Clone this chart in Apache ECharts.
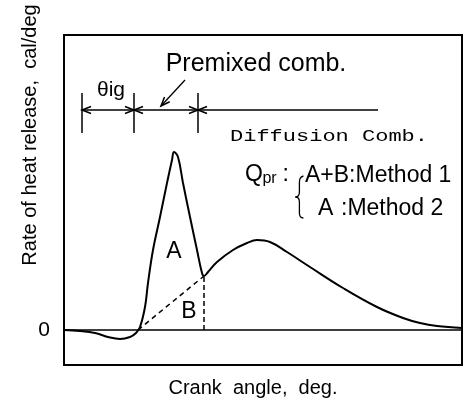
<!DOCTYPE html>
<html>
<head>
<meta charset="utf-8">
<script src="https://cdn.jsdelivr.net/npm/echarts@6/dist/echarts.min.js"></script>
<style>
html, body { margin: 0; padding: 0; background: #fff; }
#chart { width: 464px; height: 405px; }
</style>
</head>
<body>
<div id="chart"></div>
<script>
// heat release curve (arbitrary units)
const crankAngle = [0, 4, 7.75, 11, 14, 16.5, 18, 19, 20.25, 21, 22.25, 24, 25.75, 27, 27.5, 28.5, 29.75, 31.5, 33.25, 34.5, 35, 36, 38.25, 42.25, 45.75, 48.25, 51.5, 55.75, 61.5, 69.75, 78.25, 84.75, 89, 93.25, 99.5];
const heatRelease = [0, -0.2, -0.6, -1.4, -1.8, -1.4, -0.6, 0.6, 4.6, 9.4, 16, 22.6, 29.4, 34, 35.6, 34.6, 29.4, 22.6, 16, 11.4, 10.8, 11.6, 13.6, 16, 17.4, 18, 17.6, 15.6, 12.6, 8.4, 4.6, 2.4, 1.4, 0.8, 0.4];

// split between A (premixed) and B
const splitAngle = [18.5, 35];
const splitRate = [0, 10.8];

// dimension marks: start, ignition, end of premixed, end of line
const phaseMarks = [4.5, 17.5, 33.5];
const phaseLineEnd = 78.5;
const yTicks = [0];

const FONT = '"Liberation Sans", Arial, sans-serif';
const chart = echarts.init(document.getElementById('chart'));

chart.setOption({
	animation: false,
	grid: { left: 64, right: 2, top: 35, bottom: 40, show: true, borderColor: '#000', borderWidth: 2 },
	xAxis: {
		type: 'value', min: 0, max: 99.5,
		axisLine: { onZero: true, lineStyle: { color: '#000', width: 1.5 } },
		axisTick: { show: false }, axisLabel: { show: false }, splitLine: { show: false }
	},
	yAxis: {
		type: 'value', min: -7, max: 59,
		axisLine: { show: false }, axisTick: { show: false }, splitLine: { show: false },
		axisLabel: { customValues: yTicks, fontSize: 21, color: '#000', margin: 14, fontFamily: FONT }
	},
	series: [
		{
			type: 'line', symbol: 'none', smooth: 0.4,
			data: crankAngle.map((x, i) => [x, heatRelease[i]]),
			lineStyle: { color: '#000', width: 2 }
		},
		{
			type: 'line', symbol: 'none',
			data: splitAngle.map((x, i) => [x, splitRate[i]]),
			lineStyle: { color: '#000', width: 1.5, type: [5, 4] }
		},
		{
			type: 'line', symbol: 'none',
			data: [[splitAngle[1], 0], [splitAngle[1], splitRate[1]]],
			lineStyle: { color: '#000', width: 1.5, type: [5, 3] }
		}
	]
});

// annotations, placed through the grid's own scales
const px = (x, y) => chart.convertToPixel({ gridIndex: 0 }, [x, y]);
const g = [];
function seg(a, b, w) {
	const p = px(a[0], a[1]), q = px(b[0], b[1]);
	g.push({ type: 'line', shape: { x1: p[0], y1: p[1], x2: q[0], y2: q[1] }, style: { stroke: '#000', lineWidth: w || 1.5 } });
}
function head(tip, from) {
	const p = px(tip[0], tip[1]), q = px(from[0], from[1]);
	const dx = p[0] - q[0], dy = p[1] - q[1], L = Math.hypot(dx, dy);
	const ux = dx / L, uy = dy / L, len = 9, hw = 3.5;
	const bx = p[0] - ux * len, by = p[1] - uy * len;
	g.push({ type: 'polyline', shape: { points: [[bx - uy * hw, by + ux * hw], p, [bx + uy * hw, by - ux * hw]] }, style: { stroke: '#000', lineWidth: 1.5, fill: null } });
}
function label(text, x, y, style, extra) {
	const p = px(x, y);
	g.push(Object.assign({
		type: 'text', x: p[0], y: p[1],
		style: Object.assign({ text: text, fill: '#000', fontSize: 23, fontFamily: FONT, align: 'center', verticalAlign: 'middle' }, style)
	}, extra));
}

const lineY = 44;
seg([phaseMarks[0], lineY], [phaseLineEnd, lineY]);
phaseMarks.forEach(m => seg([m, 47.4], [m, 39.4]));
head([phaseMarks[0], lineY], [phaseMarks[1], lineY]);
head([phaseMarks[1], lineY], [phaseMarks[0], lineY]);
head([phaseMarks[1], lineY], [phaseMarks[2], lineY]);
head([phaseMarks[2], lineY], [phaseMarks[1], lineY]);
head([phaseMarks[2], lineY], [phaseLineEnd, lineY]);

label('θig', 11.75, 48, { fontSize: 21 });
label('Premixed comb.', 48, 53.2, { fontSize: 25 });
seg([30.25, 50], [24.25, 44.8], 1.3);
head([24.25, 44.8], [30.25, 50]);
label('Diffusion Comb.', 66.25, 38.6, { fontSize: 16, fontFamily: '"Liberation Mono", "DejaVu Sans Mono", monospace' }, { scaleX: 1.375 });

label('Q', 45.25, 31, { align: 'left' });
label('pr', 49.6, 30.2, { align: 'left', fontSize: 16 });
label(':', 54.6, 31, { align: 'left' });
label('A+B:Method 1', 60.25, 30.8, { align: 'left' });
label('A', 63.5, 24.2, { align: 'left' });
label(':Method 2', 69.25, 24.2, { align: 'left' });

// thin brace joining the two method lines
const b = px(58.6, 26.6);
const braceStyle = { stroke: '#000', lineWidth: 1.3, fill: null };
[
	[5, -21, 1, -20, 1, -17, 1, -13],
	[1, -5, 1, -2, 0, 0, -3, 0],
	[-3, 0, 0, 0, 1, 2, 1, 5],
	[1, 16, 1, 19, 2, 21, 5, 21]
].forEach(c => g.push({
	type: 'bezierCurve',
	shape: { x1: b[0] + c[0], y1: b[1] + c[1], cpx1: b[0] + c[2], cpy1: b[1] + c[3], cpx2: b[0] + c[4], cpy2: b[1] + c[5], x2: b[0] + c[6], y2: b[1] + c[7] },
	style: braceStyle
}));
g.push({ type: 'line', shape: { x1: b[0] + 1, y1: b[1] - 13, x2: b[0] + 1, y2: b[1] - 5 }, style: braceStyle });
g.push({ type: 'line', shape: { x1: b[0] + 1, y1: b[1] + 5, x2: b[0] + 1, y2: b[1] + 16 }, style: braceStyle });

label('A', 27.5, 15.6);
label('B', 31.25, 3.6);

g.push({ type: 'text', x: 30, y: 135, rotation: Math.PI / 2, style: { text: 'Rate of heat release,  cal/deg', fill: '#000', fontSize: 20, fontFamily: FONT, align: 'center', verticalAlign: 'middle' } });
g.push({ type: 'text', x: 253, y: 388, style: { text: 'Crank  angle,  deg.', fill: '#000', fontSize: 20, fontFamily: FONT, align: 'center', verticalAlign: 'middle' } });

chart.setOption({ graphic: g });
</script>
</body>
</html>
